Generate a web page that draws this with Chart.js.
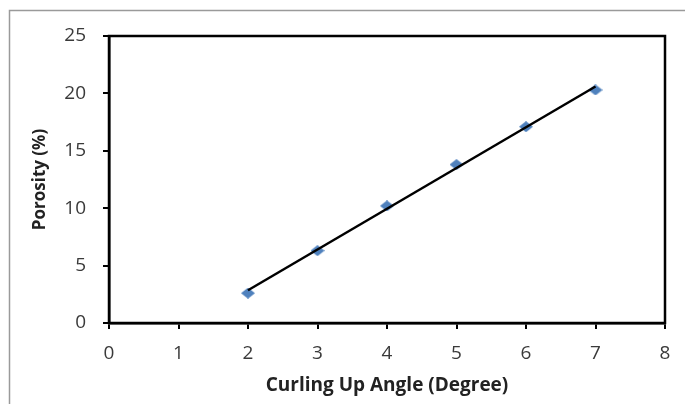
<!DOCTYPE html>
<html>
<head>
<meta charset="utf-8">
<script src="https://cdn.jsdelivr.net/npm/chart.js@4.4.1/dist/chart.umd.min.js"></script>
<style>
  html, body { margin: 0; padding: 0; background: #fff; }
  #wrap { width: 685px; height: 404px; }
</style>
</head>
<body>
<div id="wrap"><canvas id="chart" width="685" height="404"></canvas></div>
<script>
/*=================================
      data
=================================*/
const angles = [2, 3, 4, 5, 6, 7];
const porosity = [2.6, 6.3, 10.2, 13.8, 17.1, 20.3];
const trendAngles = [2, 7];
const trendPorosity = [2.85, 20.6];
const xTicks = [0, 1, 2, 3, 4, 5, 6, 7, 8];
const yTicks = [0, 5, 10, 15, 20, 25];

/*=================================
      diamond marker
=================================*/
function diamond(w, h, color) {
  const c = document.createElement("canvas");
  c.width = w;
  c.height = h;
  const g = c.getContext("2d");
  g.fillStyle = color;
  g.beginPath();
  g.moveTo(w / 2, 0);
  g.lineTo(w, h / 2);
  g.lineTo(w / 2, h);
  g.lineTo(0, h / 2);
  g.closePath();
  g.fill();
  return c;
}

// grey frame round the picture + black box round the plot
const frame = {
  id: "frame",
  beforeDraw(chart) {
    const ctx = chart.ctx;
    ctx.save();
    ctx.fillStyle = "#fff";
    ctx.fillRect(0, 0, chart.width, chart.height);
    ctx.strokeStyle = "#9a9a9a";
    ctx.lineWidth = 1.5;
    ctx.beginPath();
    ctx.moveTo(9.5, chart.height);
    ctx.lineTo(9.5, 10.5);
    ctx.lineTo(chart.width, 10.5);
    ctx.stroke();
    ctx.restore();
  },
  beforeDatasetsDraw(chart) {
    const a = chart.chartArea;
    const ctx = chart.ctx;
    ctx.save();
    ctx.strokeStyle = "#000";
    ctx.lineWidth = 2.5;
    ctx.strokeRect(a.left, a.top, a.right - a.left, a.bottom - a.top);
    ctx.restore();
  },
};

const tickFont = { family: "'Open Sans', sans-serif", size: 19 };

new Chart("chart", {
  type: "scatter",
  data: {
    datasets: [
      {
        label: "trend",
        data: trendAngles.map((x, i) => ({ x: x, y: trendPorosity[i] })),
        showLine: true,
        borderColor: "#000",
        borderWidth: 2.5,
        pointRadius: 0,
        order: 0,
      },
      {
        label: "Porosity",
        data: angles.map((x, i) => ({ x: x, y: porosity[i] })),
        pointStyle: diamond(14, 11, "#4F81BD"),
        backgroundColor: "#4F81BD",
        order: 1,
      },
    ],
  },
  options: {
    responsive: false,
    animation: false,
    layout: { autoPadding: false, padding: { left: 0, top: 36, right: 20, bottom: 0 } },
    plugins: { legend: { display: false }, tooltip: { enabled: false } },
    scales: {
      x: {
        min: 0,
        max: 8,
        afterBuildTicks: (s) => { s.ticks = xTicks.map((v) => ({ value: v })); },
        afterFit: (s) => { s.height = 81; },
        border: { display: true, color: "#000", width: 2.5 },
        grid: { drawOnChartArea: false, drawTicks: true, tickLength: 6, color: "#000", lineWidth: 2 },
        ticks: { color: "#3a3a3a", font: tickFont, padding: 13, maxRotation: 0 },
        title: {
          display: true,
          text: "Curling Up Angle (Degree)",
          color: "#222",
          font: { family: "'Open Sans', sans-serif", size: 19, weight: "bold" },
          padding: { top: 0, bottom: 7 },
        },
      },
      y: {
        min: 0,
        max: 25,
        afterBuildTicks: (s) => { s.ticks = yTicks.map((v) => ({ value: v })); },
        afterFit: (s) => { s.width = 109; },
        border: { display: true, color: "#000", width: 2.5 },
        grid: { drawOnChartArea: false, drawTicks: true, tickLength: 6, color: "#000", lineWidth: 2 },
        ticks: { color: "#3a3a3a", font: tickFont, padding: 17 },
        title: {
          display: true,
          text: "Porosity (%)",
          color: "#222",
          font: { family: "'Open Sans', sans-serif", size: 17, weight: "bold" },
          padding: { top: 30, bottom: 0 },
        },
      },
    },
  },
  plugins: [frame],
});
</script>
</body>
</html>
